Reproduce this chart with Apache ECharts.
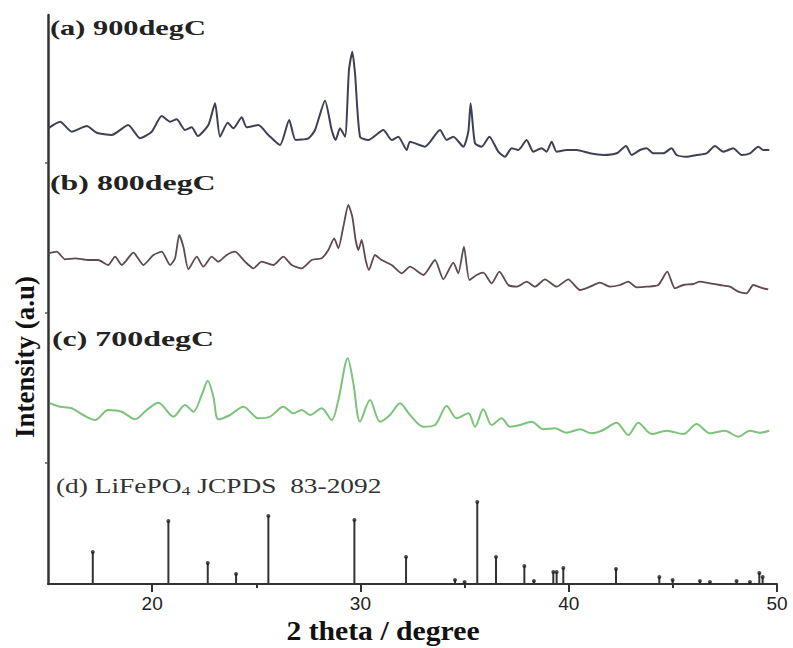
<!DOCTYPE html>
<html><head><meta charset="utf-8">
<script src="https://cdn.jsdelivr.net/npm/echarts@6/dist/echarts.min.js"></script>
<style>html,body{margin:0;padding:0;background:#fff}#c{width:793px;height:648px}</style>
</head><body><div id="c"></div>
<script>
// 2 theta values and stacked (offset) intensities
const thetaA = [15.01,15.58,16.14,16.86,17.34,18.06,18.85,19.42,19.98,20.46,20.86,21.18,21.58,21.90,22.19,22.70,23.02,23.26,23.63,23.90,24.30,24.54,25.10,25.58,26.14,26.58,26.89,27.50,27.82,28.30,28.62,28.81,29.02,29.26,29.45,29.61,29.74,29.98,30.38,31.10,31.50,31.82,32.22,32.38,33.10,33.82,34.14,34.46,34.94,35.18,35.29,35.50,35.82,36.19,36.62,36.94,37.26,37.58,37.98,38.30,38.70,38.94,39.18,39.42,39.90,40.38,41.02,41.66,42.30,42.75,43.02,43.42,43.74,44.06,44.54,44.94,45.18,45.66,46.14,46.62,47.02,47.42,47.90,48.30,48.70,49.10,49.34,49.63];
const intA = [455.7,462.3,452.3,458,451.3,449,459,445.7,452.3,468,462.3,464.7,454,456.7,448,459,480.7,447.3,461.3,455.7,466.7,456.7,459,449,439,464,444,445.7,454,483.3,454,444,455.7,447.3,514,532.3,510.7,447.3,444,454,444,447.3,434,442.3,437.3,454,444,447.3,437.3,452.3,480.7,440.7,437.3,447.3,432.3,427.3,435.7,434,444,432.3,435.7,432.3,442.3,432.3,434,434,430.7,429,430.7,438,429,434,435.7,430.7,430.7,435.7,429,427.3,429,430.7,438,432.3,435.7,429,430.7,437.3,434,434];

const thetaB = [15.01,15.42,15.82,16.30,16.93,17.41,17.89,18.22,18.54,19.10,19.58,20.06,20.46,20.86,21.10,21.30,21.50,21.74,22.14,22.46,22.86,23.18,23.58,23.98,24.46,24.86,25.26,25.82,26.30,26.70,27.18,27.66,28.14,28.46,28.74,28.94,29.18,29.42,29.61,29.77,29.90,30.06,30.25,30.41,30.70,31.02,31.50,31.98,32.38,33.02,33.58,33.98,34.46,34.70,34.97,35.23,35.58,35.90,36.30,36.67,37.10,37.50,37.98,38.38,38.86,39.42,39.98,40.54,41.02,41.50,41.98,42.46,42.86,43.26,43.74,44.30,44.73,45.10,45.50,45.98,46.30,46.78,47.26,47.74,48.14,48.54,48.86,49.10,49.34,49.58];
const intB = [330.7,332.3,324.7,325.7,324,324,319,327.3,319,331.3,319,329,332.3,319,325.7,349,337.3,314.7,327.3,317.3,327.3,322.3,329,332.3,322.3,315.7,322.3,319,327.3,319,315.7,324,325.7,334,345.7,335.7,357.3,379,367.3,344,334,344,324,314,329,324,319,310.7,317.3,309,324,304.7,321.3,310.7,337.3,304,309,311.3,300.7,312.3,299,297.3,302.3,297.3,304.7,297.3,304.7,294,297.3,301.3,297.3,299,302.3,296.7,297.3,299,312.3,295.7,299,300,302.3,300.7,299,297.3,292.3,290.7,299,297.3,295.7,294.7];

const thetaC = [15.10,15.58,16.14,16.69,17.26,17.89,18.54,19.18,19.74,20.30,21.02,21.58,21.98,22.38,22.67,22.94,23.18,23.74,24.38,25.10,25.66,26.30,26.78,27.18,27.58,28.14,28.62,28.94,29.39,29.66,29.98,30.46,30.94,31.42,31.90,32.38,33.02,33.58,34.14,34.62,35.18,35.50,35.90,36.30,36.78,37.18,37.66,38.22,38.78,39.34,39.90,40.54,41.10,41.66,42.30,42.86,43.34,43.98,44.70,45.50,46.14,46.78,47.50,48.14,48.70,49.18,49.63];
const intC = [180.7,177.3,175.7,169,164,174,172.3,164.7,174,181.3,167.3,179,172.3,189,203.3,187.3,164.7,169,177.3,165.7,167.3,177.3,170.7,174,169,175.7,164,184,225.7,200.7,162.3,184,162.3,169,180.7,169,157.3,159,178,165.7,170.7,157.3,174.7,159,165.7,157.3,159,162.3,154.7,155.7,151.3,154.7,150.7,154,161.3,149,161.3,150,153.3,150,160,150.7,153.3,147.3,153.3,151.3,153.3];

// reference pattern (d) LiFePO4 JCPDS 83-2092
const thetaRef = [17.15,20.78,22.67,24.03,25.58,29.71,32.19,34.54,35.00,35.61,36.51,37.87,38.33,39.26,39.42,39.74,42.27,44.35,44.99,46.30,46.78,48.06,48.70,49.15,49.31];
const intRef = [32,63,21,10,68,64,27,4,2,82,27,18,3,12,12,16,15,7,4,3,2,3,2,11,7];

const xTicksMajor = [20,30,40,50];
const xTicksMinor = [25,35,45];
const yTicks = [121,271,421];

const zip = (a,b) => a.map((v,i)=>[v,b[i]]);

const chart = echarts.init(document.getElementById('c'), null, {renderer:'svg'});
const serif = '"Liberation Serif","Times New Roman",serif';
chart.setOption({
  animation:false,
  backgroundColor:'#fff',
  grid:{left:48,right:16,top:15,bottom:64},
  xAxis:[{
    type:'value',min:15,max:50,interval:5,position:'bottom',
    axisLine:{show:true,lineStyle:{color:'#333',width:2}},
    axisTick:{show:true,customValues:xTicksMajor,length:8,lineStyle:{color:'#333',width:2}},
    axisLabel:{customValues:xTicksMajor,margin:10,fontSize:19,color:'#222',fontFamily:'"Liberation Sans",Arial,sans-serif'},
    splitLine:{show:false}
  },{
    type:'value',min:15,max:50,interval:5,position:'bottom',
    axisLine:{show:false},
    axisTick:{show:true,customValues:xTicksMinor,length:4,lineStyle:{color:'#333',width:2}},
    axisLabel:{show:false},splitLine:{show:false}
  }],
  yAxis:{type:'value',min:0,max:569,
    axisLine:{show:true,lineStyle:{color:'#333',width:2.5}},
    axisTick:{show:true,customValues:yTicks,length:3,lineStyle:{color:'#555',width:1.5}},
    axisLabel:{show:false},splitLine:{show:false}},
  series:[
    {type:'line',data:zip(thetaA,intA),showSymbol:false,smooth:0.2,lineStyle:{color:'#3e4152',width:2}},
    {type:'line',data:zip(thetaB,intB),showSymbol:false,smooth:0.2,lineStyle:{color:'#5e4a4d',width:1.8}},
    {type:'line',data:zip(thetaC,intC),showSymbol:false,smooth:0.3,lineStyle:{color:'#7cc47c',width:2}},
    {type:'bar',data:zip(thetaRef,intRef),barWidth:2,itemStyle:{color:'#333'}},
    {type:'scatter',data:zip(thetaRef,intRef),symbolSize:4,itemStyle:{color:'#222'}}
  ],
  graphic:[
    {type:'text',x:50,y:17,scaleX:1.38,style:{text:'(a) 900degC',font:'bold 22px '+serif,fill:'#222'}},
    {type:'text',x:50,y:172,scaleX:1.45,style:{text:'(b) 800degC',font:'bold 22px '+serif,fill:'#222'}},
    {type:'text',x:52,y:328,scaleX:1.45,style:{text:'(c) 700degC',font:'bold 22px '+serif,fill:'#222'}},
    {type:'text',x:56,y:476,scaleX:1.37,style:{
      text:'(d) LiFePO{s|4} JCPDS  83-2092',font:'20px '+serif,fill:'#333',
      rich:{s:{font:'13px '+serif,fill:'#333',verticalAlign:'bottom',padding:[8,0,0,0]}}}},
    {type:'text',x:383,y:631,scaleX:1.1,style:{text:'2 theta / degree',font:'bold 27px '+serif,fill:'#111',align:'center',verticalAlign:'middle'}},
    {type:'text',x:11,y:438,rotation:Math.PI/2,style:{text:'Intensity (a.u)',font:'bold 27px '+serif,fill:'#111'}}
  ]
});
</script></body></html>
